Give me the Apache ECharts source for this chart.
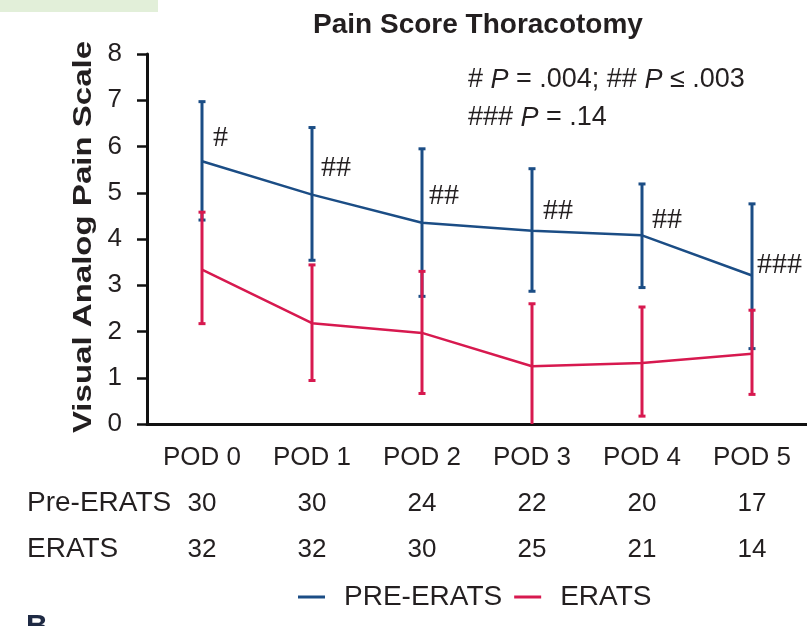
<!DOCTYPE html>
<html>
<head>
<meta charset="utf-8">
<script src="https://cdn.jsdelivr.net/npm/echarts@6/dist/echarts.min.js"></script>
<style>
html,body{margin:0;padding:0;background:#fff;}
#chart{width:807px;height:626px;}
</style>
</head>
<body>
<div id="chart"></div>
<script>
// ---- data ----
const categories = ['POD 0', 'POD 1', 'POD 2', 'POD 3', 'POD 4', 'POD 5'];
const preMean  = [5.68, 4.96, 4.35, 4.18, 4.08, 3.21];
const preUpper = [6.97, 6.41, 5.95, 5.52, 5.19, 4.76];
const preLower = [4.41, 3.54, 2.76, 2.87, 2.95, 1.63];
const eratsMean  = [3.34, 2.18, 1.97, 1.25, 1.32, 1.52];
const eratsUpper = [4.58, 3.44, 3.30, 2.60, 2.53, 2.46];
const eratsLower = [2.17, 0.94, 0.66, -0.10, 0.17, 0.64];
const sigLabels = ['#', '##', '##', '##', '##', '###'];
const preCounts = [30, 30, 24, 22, 20, 17];
const eratsCounts = [32, 32, 30, 25, 21, 14];
const seriesNames = ['PRE-ERATS', 'ERATS'];
const rowNames = ['Pre-ERATS', 'ERATS'];

// ---- styles ----
const FONT = "'Liberation Sans', Arial, Helvetica, sans-serif";
const TXT = '#231f20';
const BLUE = '#1b4d85';
const RED = '#d7194f';
const sigOffsets = [[11, -23], [9, -26], [7, -27], [11, -20], [10, -15], [5, -10]];

function errorBars(lower, upper, color, z) {
  return {
    type: 'custom',
    z: z,
    silent: true,
    data: categories.map((c, i) => [i, lower[i], upper[i]]),
    encode: { x: 0, y: [1, 2] },
    renderItem: function (params, api) {
      const i = api.value(0);
      const lo = api.value(1), hi = api.value(2);
      const top = api.coord([i, hi]);
      const bot = api.coord([i, Math.max(lo, 0)]);
      const hw = 3.5;
      const st = { stroke: color, lineWidth: 3 };
      const children = [
        { type: 'line', shape: { x1: top[0], y1: top[1], x2: bot[0], y2: bot[1] }, style: st },
        { type: 'line', shape: { x1: top[0] - hw, y1: top[1], x2: top[0] + hw, y2: top[1] }, style: st }
      ];
      if (lo >= 0) {
        children.push({ type: 'line', shape: { x1: bot[0] - hw, y1: bot[1], x2: bot[0] + hw, y2: bot[1] }, style: st });
      }
      return { type: 'group', children: children };
    }
  };
}

const chart = echarts.init(document.getElementById('chart'), null, { renderer: 'canvas' });

const richP = {
  n: { fontFamily: FONT, fontSize: 27, fill: TXT, color: TXT },
  i: { fontFamily: FONT, fontSize: 27, fontStyle: 'italic', fill: TXT, color: TXT }
};

const option = {
  backgroundColor: '#fff',
  animation: false,
  textStyle: { fontFamily: FONT, color: TXT },
  title: {
    text: 'Pain Score Thoracotomy',
    left: 473, top: 6, textAlign: 'center',
    textStyle: { fontFamily: FONT, fontSize: 28, fontWeight: 'bold', color: TXT }
  },
  legend: {
    data: seriesNames,
    left: 298, top: 583, padding: 0,
    icon: 'rect', itemWidth: 27, itemHeight: 3, itemGap: 12,
    textStyle: { fontFamily: FONT, fontSize: 28, color: TXT, padding: [0, 0, 0, 14] }
  },
  grid: { left: 147, right: 0, top: 54, bottom: 202, containLabel: false },
  xAxis: [
    {
      type: 'category', data: categories, boundaryGap: true,
      axisLine: { show: true, lineStyle: { color: '#111', width: 3 } },
      axisTick: { show: false },
      axisLabel: { margin: 21, fontFamily: FONT, fontSize: 26, color: TXT, interval: 0 },
      splitLine: { show: false }
    },
    {
      type: 'category', data: preCounts.map(String), position: 'bottom', offset: 46, boundaryGap: true,
      axisLine: { show: false }, axisTick: { show: false },
      axisLabel: { margin: 21, fontFamily: FONT, fontSize: 26, color: TXT, interval: 0 }
    },
    {
      type: 'category', data: eratsCounts.map(String), position: 'bottom', offset: 92, boundaryGap: true,
      axisLine: { show: false }, axisTick: { show: false },
      axisLabel: { margin: 21, fontFamily: FONT, fontSize: 26, color: TXT, interval: 0 }
    }
  ],
  yAxis: {
    type: 'value', min: 0, max: 8, interval: 1,
    axisLine: { show: true, lineStyle: { color: '#111', width: 3 } },
    axisTick: { show: true, inside: false, length: 10, lineStyle: { color: '#111', width: 2.5 } },
    axisLabel: { margin: 25, fontFamily: FONT, fontSize: 26, color: TXT },
    splitLine: { show: false }
  },
  series: [
    errorBars(preLower, preUpper, BLUE, 2),
    errorBars(eratsLower, eratsUpper, RED, 3),
    {
      name: seriesNames[0], type: 'line', data: preMean, z: 4,
      symbol: 'none', lineStyle: { color: BLUE, width: 2.5 }, itemStyle: { color: BLUE }
    },
    {
      name: seriesNames[1], type: 'line', data: eratsMean, z: 4,
      symbol: 'none', lineStyle: { color: RED, width: 2.5 }, itemStyle: { color: RED }
    },
    {
      type: 'custom', z: 5, silent: true,
      data: categories.map((c, i) => [i, preMean[i]]),
      encode: { x: 0, y: 1 },
      renderItem: function (params, api) {
        const i = api.value(0);
        const p = api.coord([i, api.value(1)]);
        const o = sigOffsets[i];
        return {
          type: 'text', x: p[0] + o[0], y: p[1] + o[1],
          style: { text: sigLabels[i], fill: TXT, font: "30px 'Liberation Serif', 'Times New Roman', serif", align: 'left', verticalAlign: 'middle' }
        };
      }
    }
  ],
  graphic: [
    { type: 'rect', left: 0, top: 0, shape: { width: 158, height: 12 }, style: { fill: '#e2efd9' }, silent: true },
    {
      type: 'text', x: 84, y: 237, rotation: Math.PI / 2, scaleX: 1.27,
      style: { text: 'Visual Analog Pain Scale', font: "bold 26px " + FONT, fill: TXT, align: 'center', verticalAlign: 'middle' }
    },
    {
      type: 'text', x: 468, y: 80,
      style: { text: '{n|# }{i|P}{n| = .004; ## }{i|P}{n| ≤ .003}', align: 'left', verticalAlign: 'middle', rich: richP }
    },
    {
      type: 'text', x: 468, y: 118,
      style: { text: '{n|### }{i|P}{n| = .14}', align: 'left', verticalAlign: 'middle', rich: richP }
    },
    { type: 'text', x: 27, y: 503, style: { text: rowNames[0], font: "28px " + FONT, fill: TXT, align: 'left', verticalAlign: 'middle' } },
    { type: 'text', x: 27, y: 549, style: { text: rowNames[1], font: "28px " + FONT, fill: TXT, align: 'left', verticalAlign: 'middle' } },
    { type: 'text', x: 26, y: 612, style: { text: 'B', font: "bold 30px " + FONT, fill: '#1f2a44', align: 'left', verticalAlign: 'top' } }
  ]
};

chart.setOption(option);
</script>
</body>
</html>
